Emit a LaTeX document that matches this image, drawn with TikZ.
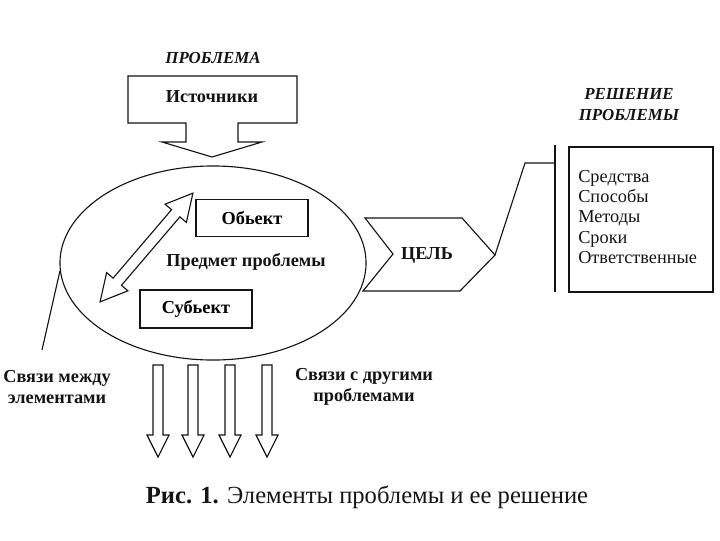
\documentclass[tikz,border=0pt]{standalone}
\usepackage{fontspec}
\setmainfont{Liberation Serif}
\usetikzlibrary{arrows.meta,positioning,calc,shapes.geometric}
\definecolor{ink}{RGB}{20,20,20}
\tikzset{
  box/.style={draw=ink,line width=0.9pt,inner sep=0pt,font=\fontsize{13}{15}\selectfont\bfseries},
  blk/.style={draw=ink,line width=0.8pt,fill=white,line join=miter},
  lbl/.style={font=\fontsize{13}{14.4}\selectfont\bfseries,text=ink,align=center},
  ttl/.style={font=\fontsize{12}{15}\selectfont\bfseries\itshape,text=ink,align=center},
  lst/.style={font=\fontsize{13}{14.4}\selectfont,text=ink,align=left,anchor=west,inner sep=0pt},
}

\begin{document}
\begin{tikzpicture}[x=0.025cm,y=-0.025cm]
  \useasboundingbox (0,0) rectangle (720,540);
  % problem side
  \node[ttl] (prob) at (213,58) {ПРОБЛЕМА};
  \draw[blk] (128,76) -- (297,76) -- (297,123) -- (238,123) -- (238,142) -- (262,142)
    -- (212,157) -- (162,142) -- (186,142) -- (186,123) -- (128,123) -- cycle;
  \node[lbl] (src) at (212,97) {Источники};
  \node[draw=ink,line width=0.8pt,ellipse,minimum width=7.65cm,minimum height=4.85cm]
    (pred) at (213,263) {};
  \node[box,minimum width=2.8cm,minimum height=0.93cm] (obj) at (252,218) {Обьект};
  \node[box,minimum width=2.8cm,minimum height=0.95cm] (sub) at (196,309) {Субьект};
  \node[lbl] (predl) at (246,262) {Предмет проблемы};
  \begin{scope}[shift={(146.5,247.5)},rotate=49.5]
    \draw[blk] (-71.5,0) -- (-45,14) -- (-45,5.5) -- (45,5.5) -- (45,14) -- (71.5,0)
      -- (45,-14) -- (45,-5.5) -- (-45,-5.5) -- (-45,-14) -- cycle;
  \end{scope}
  % links
  \coordinate (lnk) at (42,350);
  \draw[ink,line width=0.8pt] (pred.183) -- (lnk);
  \node[lbl] (lnkel) at (57,387) {Связи между\\элементами};
  \node[lbl] (lnkpr) at (364,387) {Связи с другими\\проблемами};
  \foreach \x in {158,193,230,267}
    \draw[blk] (\x-5,365) -- (\x-5,435) -- (\x-11,435) -- (\x,457) -- (\x+11,435)
      -- (\x+5,435) -- (\x+5,365) -- cycle;
  % goal and solution
  \draw[blk] (365,218) -- (462,218) -- (495,255) -- (460,291) -- (363,291) -- (393,254) -- cycle;
  \node[lbl] (goal) at (427,255) {ЦЕЛЬ};
  \coordinate (gtip) at (495,255);
  \coordinate (bend) at (525,163);
  \coordinate (bartop) at (555,145);
  \coordinate (barbot) at (555,292);
  \draw[ink,line width=1.4pt] (bartop) -- (barbot);
  \draw[ink,line width=0.8pt] (gtip) -- (bend) -- (bend -| bartop);
  \node[ttl] (sol) at (629,105) {РЕШЕНИЕ\\ПРОБЛЕМЫ};
  \node[draw=ink,line width=1.1pt,minimum width=3.6cm,minimum height=3.625cm,anchor=north west]
    (solbox) at (568,146) {};
  \node[lst] (means) at (578,217) {Средства\\Способы\\Методы\\Сроки\\Ответственные};
  % caption
  \node[font=\fontsize{17.5}{20}\selectfont,text=ink] (cap) at (367,497)
    {\textbf{Рис. 1.} Элементы проблемы и ее решение};
\end{tikzpicture}
\end{document}
